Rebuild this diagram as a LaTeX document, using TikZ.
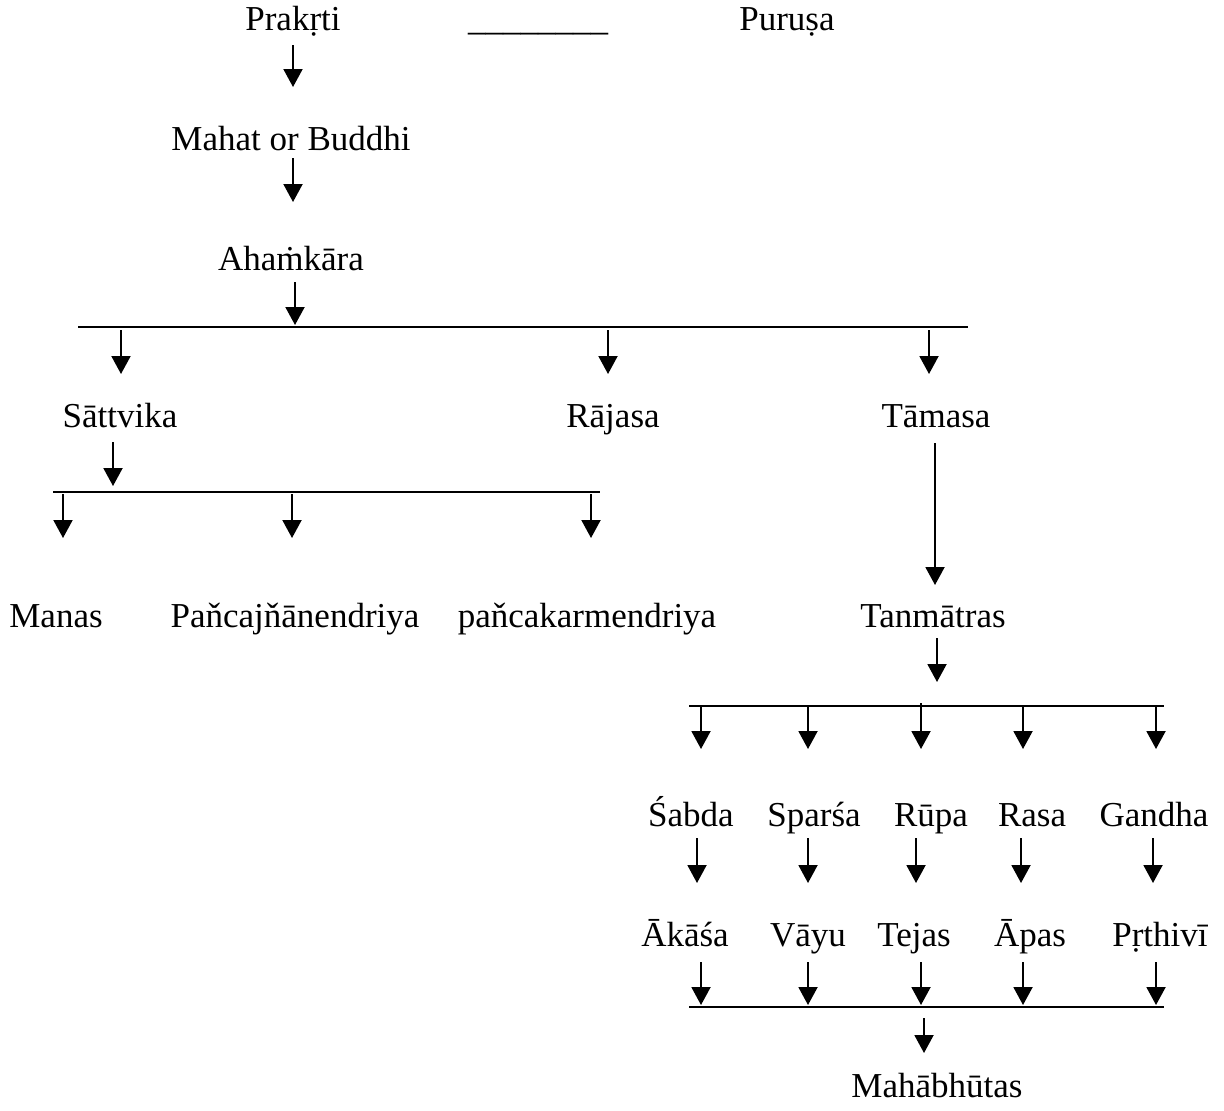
\documentclass[tikz,border=0pt]{standalone}
\usepackage{fontspec}
\setmainfont{Liberation Serif}
\usetikzlibrary{arrows.meta}

\begin{document}
\begin{tikzpicture}[x=0.5pt,y=-0.5pt,line width=1pt,>={Triangle[width=9.5pt,length=9pt]},
  term/.style={anchor=base,inner sep=0pt,font=\fontsize{17.5}{21}\selectfont},
  arr/.style={->,line width=1pt}]
  \useasboundingbox (0,0) rectangle (1224,1110);
  % primera fila
  \node[term] (prakrti) at (293,30) {Prakṛti};
  \node[term] (raya) at (538,30) {\_\_\_\_\_\_\_\_};
  \node[term] (purusa) at (787,30) {Puruṣa};
  \node[term] (mahat) at (291,150) {Mahat or Buddhi};
  \node[term] (ahamkara) at (291,270) {Ahaṁkāra};
  % tres gunas
  \node[term] (sattvika) at (120,427) {Sāttvika};
  \node[term] (rajasa) at (613,427) {Rājasa};
  \node[term] (tamasa) at (936,427) {Tāmasa};
  \node[term] (manas) at (56,627) {Manas};
  \node[term] (jnana) at (295,627) {Paňcajňānendriya};
  \node[term] (karma) at (587,627) {paňcakarmendriya};
  \node[term] (tanmatras) at (933,627) {Tanmātras};
  % tanmatras y bhutas
  \foreach \n/\x/\t in {sabda/691/Śabda,sparsa/814/Sparśa,rupa/931/Rūpa,rasa/1032/Rasa,gandha/1154/Gandha}
    \node[term] (\n) at (\x,826) {\t};
  \foreach \n/\x/\t in {akasa/685/Ākāśa,vayu/808/Vāyu,tejas/914/Tejas,apas/1030/Āpas,prthivi/1160/Pṛthivī}
    \node[term] (\n) at (\x,946) {\t};
  \node[term] (mahabhutas) at (937,1097) {Mahābhūtas};
  % barras
  \foreach \n/\xa/\xb/\y in {bar1/78/968/327,bar2/53/600/492,bar3/689/1164/706,bar4/689/1164/1007}{
    \coordinate (\n-w) at (\xa,\y); \coordinate (\n-e) at (\xb,\y);
    \draw (\n-w) -- (\n-e);
  }
  % flechas
  \foreach \n/\x/\ya/\yb in {pm/293/45/87,ma/293/158/202,ab/295/282/325,
      s1/121/330/374,s2/608/330/374,s3/929/330/374,
      sv/113/442/486,m1/63/494/538,m2/292/494/538,m3/591/494/538,
      tt/935/443/585,tb/937/638/682,
      t1/701/706/749,t2/808/706/749,t3/921/703/749,t4/1023/706/749,t5/1156/706/749,
      e1/697/838/883,e2/808/838/883,e3/916/838/883,e4/1021/838/883,e5/1153/838/883,
      g1/701/962/1005,g2/808/962/1005,g3/921/962/1005,g4/1023/962/1005,g5/1156/962/1005,
      mb/924/1018/1053}{
    \coordinate (\n-s) at (\x,\ya); \coordinate (\n-e) at (\x,\yb);
    \draw[arr] (\n-s) -- (\n-e);
  }
\end{tikzpicture}
\end{document}
